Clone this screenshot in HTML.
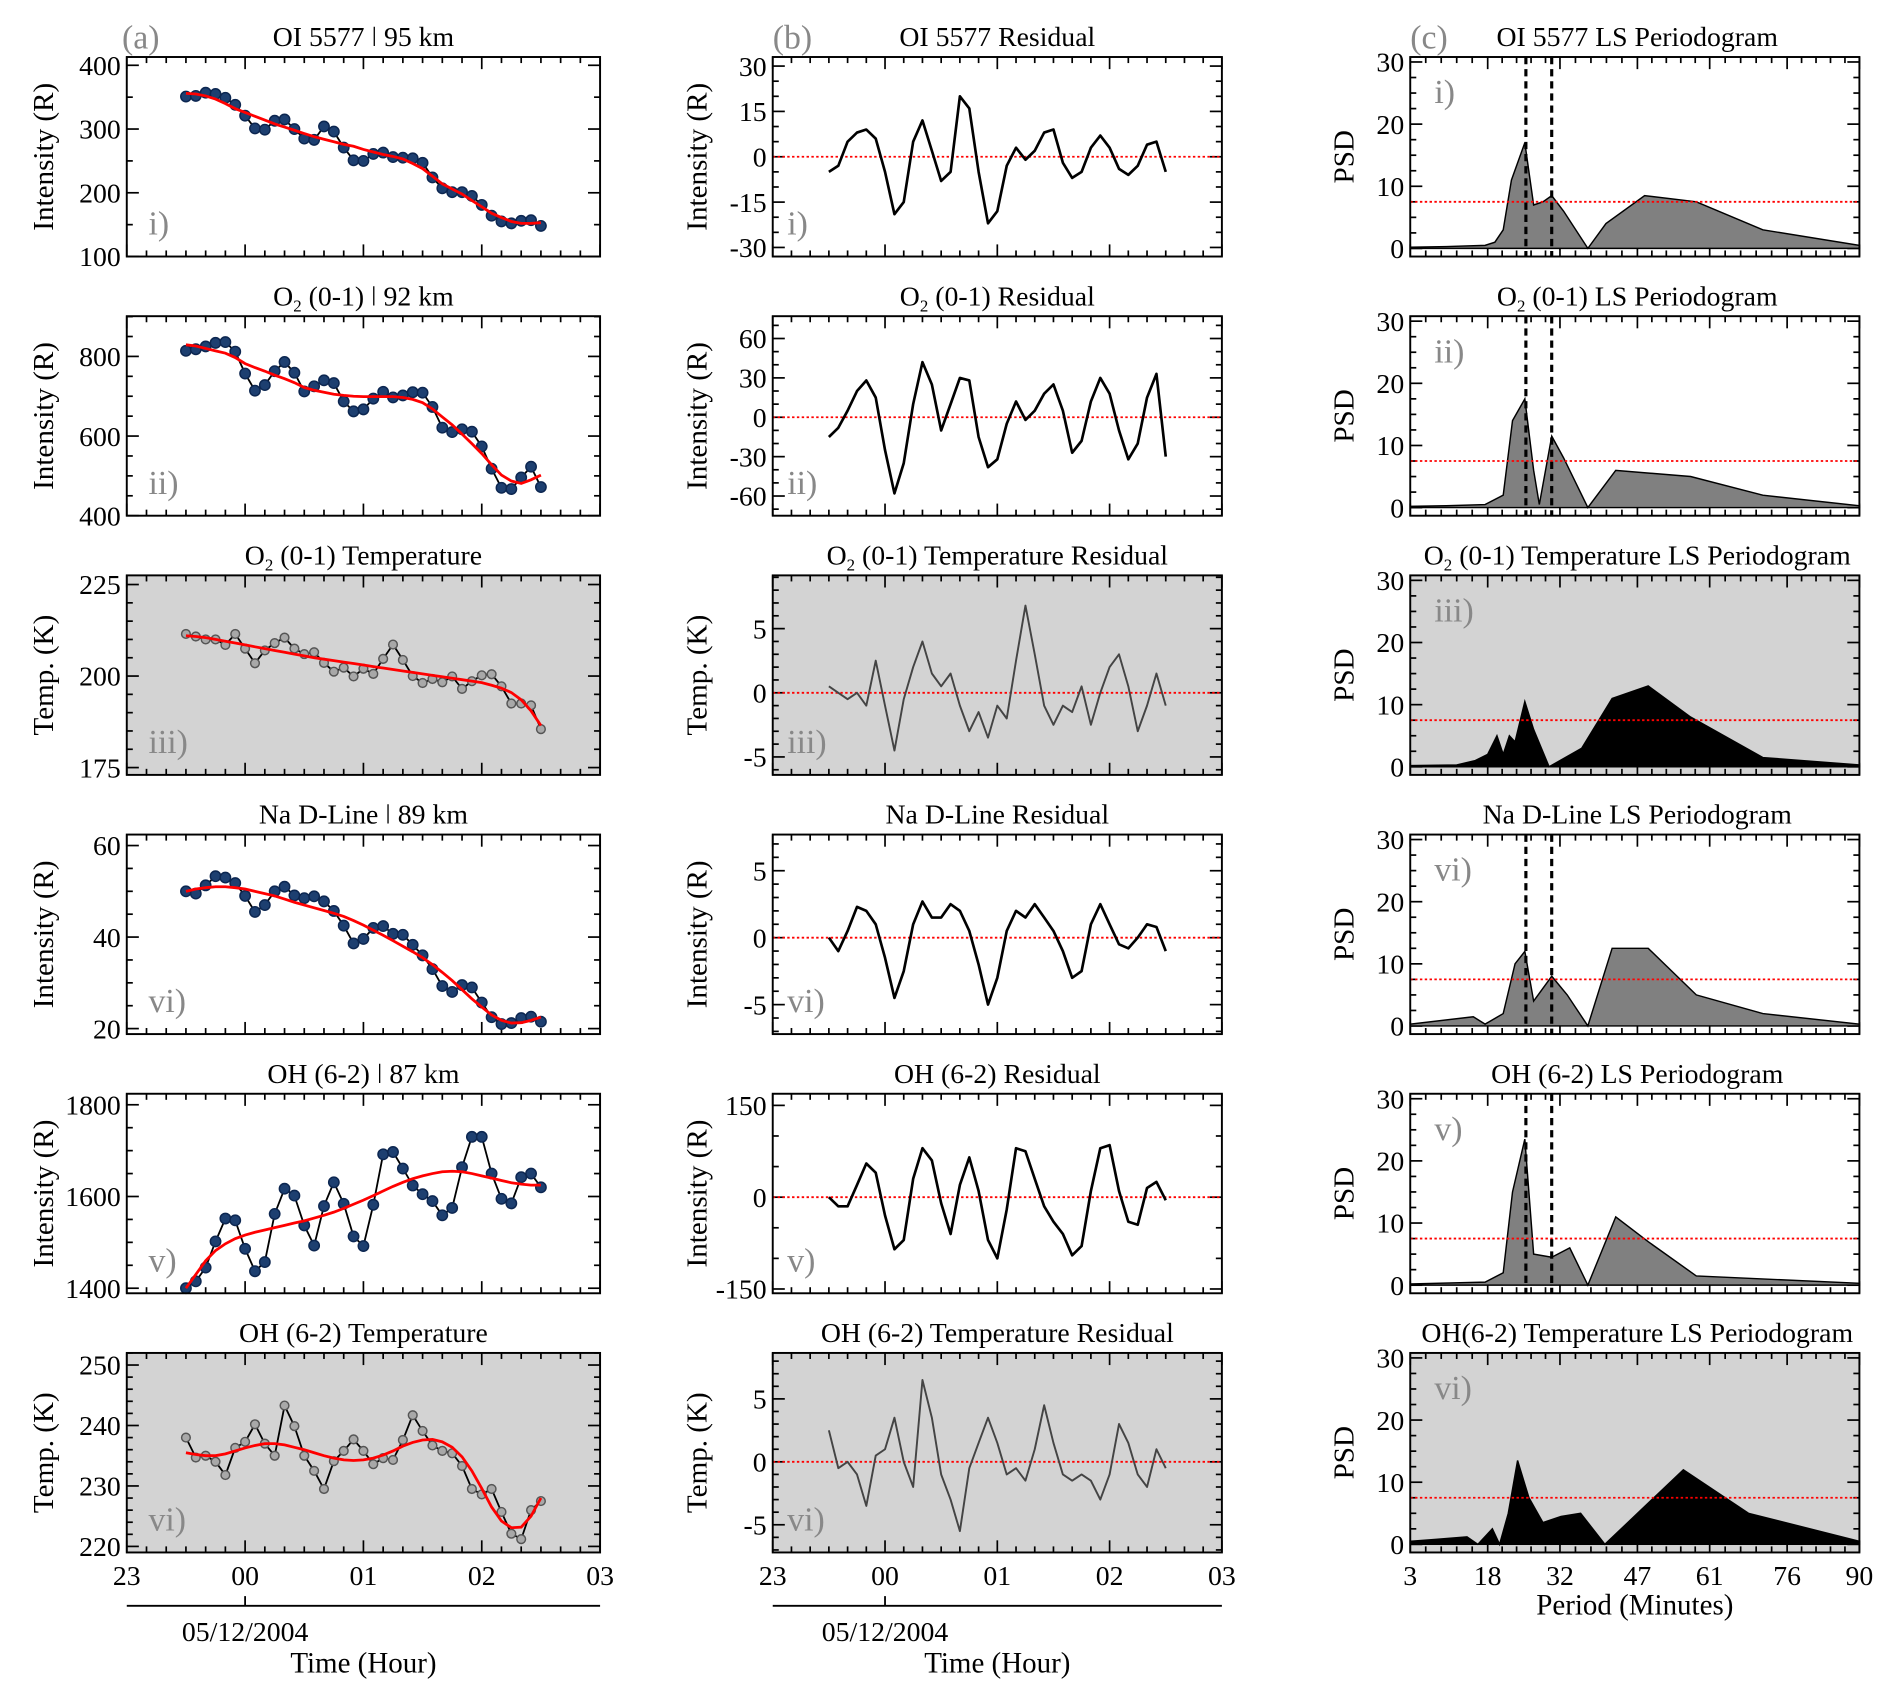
<!DOCTYPE html>
<html><head><meta charset="utf-8">
<style>
html,body{margin:0;padding:0;background:#fff;}
svg{display:block;font-family:"Liberation Serif",serif;}
</style></head>
<body>
<svg id="chart" width="1892" height="1698" viewBox="0 0 1567 1400" preserveAspectRatio="none" xmlns="http://www.w3.org/2000/svg">
<text x="101" y="40" font-size="28" fill="#888">(a)</text>
<text x="640" y="40" font-size="28" fill="#888">(b)</text>
<text x="1168" y="40" font-size="28" fill="#888">(c)</text>
<line x1="105" y1="1324" x2="497" y2="1324" stroke="#000" stroke-width="1.5"/>
<line x1="203" y1="1324" x2="203" y2="1316" stroke="#000" stroke-width="1.5"/>
<text x="203" y="1353" font-size="23" text-anchor="middle">05/12/2004</text>
<text x="301" y="1379" font-size="24" text-anchor="middle">Time (Hour)</text>
<line x1="640" y1="1324" x2="1012" y2="1324" stroke="#000" stroke-width="1.5"/>
<line x1="733" y1="1324" x2="733" y2="1316" stroke="#000" stroke-width="1.5"/>
<text x="733" y="1353" font-size="23" text-anchor="middle">05/12/2004</text>
<text x="826" y="1379" font-size="24" text-anchor="middle">Time (Hour)</text>
<text x="1354" y="1331" font-size="24" text-anchor="middle">Period (Minutes)</text>
</svg>
<script>
// ---- data: minutes after 23:30 UT ----
const times=[0,5,10,15,20,25,30,35,40,45,50,55,60,65,70,75,80,85,90,95,100,105,110,115,120,125,130,135,140,145,150,155,160,165,170,175,180];
const fitOI=[356,355,352,347,340,332,326,320,314,308,303,298,293,288,284,280,276,273,268,264,260,257,253,246,238,226,214,206,198,188,178,168,161,155,152,152,153];
const resOI=[-5,-3,5,8,9,6,-5,-19,-15,5,12,2,-8,-5,20,16,-5,-22,-18,-3,3,-1,2,8,9,-2,-7,-5,3,7,3,-4,-6,-3,4,5,-5];
const fitO2=[829,826,820,814,808,797,782,772,763,753,744,734,722,715,710,705,702,700,699,699,699,699,697,692,684,668,648,628,605,581,556,528,502,487,481,490,502];
const resO2=[-15,-8,5,20,28,15,-25,-58,-35,10,42,25,-10,10,30,28,-15,-38,-32,-5,12,-2,5,18,25,5,-27,-18,12,30,18,-10,-32,-20,15,33,-30];
const fitO2T=[211,210.8,210.5,210,209.5,209,208.5,208,207.5,207,206.5,206,205.5,205,204.6,204.2,203.8,203.4,203,202.6,202.2,201.8,201.4,201,200.6,200.2,199.8,199.4,199,198.6,198.2,197.5,196.7,195.5,193.5,190.5,186.5];
const resO2T=[0.5,0,-0.5,0,-1,2.5,-1,-4.5,-0.5,2,4,1.5,0.5,1.5,-1,-3,-1.5,-3.5,-1,-2,2.5,6.8,3,-1,-2.5,-1,-1.5,0.5,-2.5,0,2,3,0.5,-3,-1,1.5,-1];
const fitNa=[50,50.5,50.8,51,51,50.8,50.5,50,49.5,49,48.3,47.6,47,46.4,45.8,45.2,44.5,43.6,42.6,41.5,40.4,39.2,38,36.8,35.5,34,32.3,30.5,28.5,26.5,24.7,23,21.8,21.2,21.3,21.8,22.5];
const resNa=[0,-1,0.5,2.3,2,1,-1.5,-4.5,-2.5,1,2.7,1.5,1.5,2.5,2,0.5,-2,-5,-3,0.5,2,1.5,2.5,1.5,0.5,-1,-3,-2.5,1,2.5,1,-0.5,-0.8,0,1,0.8,-1];
const fitOH=[1400,1430,1460,1482,1497,1508,1516,1522,1527,1532,1537,1542,1547,1553,1559,1566,1574,1583,1592,1602,1612,1622,1631,1639,1645,1650,1654,1655,1654,1650,1645,1640,1635,1630,1627,1625,1625];
const resOH=[0,-15,-15,20,55,40,-30,-85,-70,30,80,60,-10,-60,20,65,10,-70,-100,-20,80,75,30,-15,-40,-60,-95,-80,10,80,85,10,-40,-45,15,25,-5];
const fitOHT=[235.5,235.2,235,235,235.3,235.8,236.3,236.7,237,237,236.8,236.4,236,235.5,235,234.6,234.3,234.2,234.3,234.6,235.1,235.8,236.6,237.2,237.6,237.7,237.3,236.4,234.8,232.5,229.6,226.5,224.2,223.1,223.2,225,228];
const resOHT=[2.5,-0.5,0,-1,-3.5,0.5,1,3.5,0,-2,6.5,3.5,-1,-3,-5.5,-0.5,1.5,3.5,1.5,-1,-0.5,-1.5,1,4.5,1.5,-1,-1.5,-1,-1.5,-3,-1,3,1.5,-1,-2,1,-0.5];
// periodograms
const perOI=[3,10,17.5,19.4,21,22.6,25.2,26.9,28.7,30.4,32.7,37.4,40.9,48.4,58.4,71.3,90];
const psdOI=[0.2,0.3,0.5,1,3,11,17,7,7.5,8.5,6,0,4,8.5,7.5,3,0.5];
const perO2=[3,10,17.5,21,22.8,25.2,26.9,28,30.4,32.7,37.4,42.8,57.3,71.3,90];
const psdO2=[0.2,0.3,0.5,2,14,17.5,6,0.5,11.5,8,0,6,5,2,0.3];
const perO2T=[3,12,15.6,18,19.8,21,22.2,23.3,25.2,26.9,29.9,36.2,42.1,49.1,57.3,71.3,90];
const psdO2T=[0.2,0.3,1,2,5,2,5,4,10.5,6,0,3,11,13,8,1.5,0.3];
const perNa=[3,15.2,17.5,21,23.3,25.2,26.9,30.4,33.4,37.4,42.1,49.1,58.4,71.3,90];
const psdNa=[0.3,1.5,0.3,2,10,12,4,8,5,0,12.5,12.5,5,2,0.3];
const perOH=[3,17.5,21,22.8,25.2,26.9,30.4,33.9,37.4,42.8,49.1,58.4,90];
const psdOH=[0.2,0.5,2,15,23.5,5,4.5,6,0,11,7,1.5,0.3];
const perOHT=[3,8,14,16.1,18.9,20.3,22,23.8,26,28.7,32.2,36,40.7,55.9,68.5,90];
const psdOHT=[0.5,0.8,1.2,0,2.5,0,5,13.5,7.5,3.5,4.5,5,0,12,5,0.5];
const hourLabels=['23','00','01','02','03'];
const periodTicks=[3,18,32,47,61,76,90];
const significance=7.5;
const markedPeriods=[25.4,30.4];

const NS='http://www.w3.org/2000/svg';
const svg=document.getElementById('chart');
function mk(tag,attrs,parent){const e=document.createElementNS(NS,tag);for(const k in attrs)e.setAttribute(k,attrs[k]);(parent||svg).appendChild(e);return e;}
function txt(str,attrs,parent){const e=mk('text',attrs,parent);e.textContent=str;return e;}

const rows=[
 {key:'oi5577',tA:['OI 5577 ǀ 95 km'],tB:'OI 5577 Residual',tC:'OI 5577 LS Periodogram',o2:false,fit:fitOI,res:resOI,per:perOI,psd:psdOI,temp:false,lab:'i)',
  domA:[100,413],majA:[100,200,300,400],minA:50,domB:[-33,33],majB:[-30,-15,0,15,30],minB:5,yl:'Intensity (R)',dash:true},
 {key:'o2',o2:true,tA:['(0-1) ǀ 92 km'],tB:'(0-1) Residual',tC:'(0-1) LS Periodogram',fit:fitO2,res:resO2,per:perO2,psd:psdO2,temp:false,lab:'ii)',
  domA:[400,901],majA:[400,600,800],minA:50,domB:[-75,77],majB:[-60,-30,0,30,60],minB:10,yl:'Intensity (R)',dash:true},
 {key:'o2-temp',o2:true,tA:['(0-1) Temperature'],tB:'(0-1) Temperature Residual',tC:'(0-1) Temperature LS Periodogram',fit:fitO2T,res:resO2T,per:perO2T,psd:psdO2T,temp:true,lab:'iii)',
  domA:[173,227.5],majA:[175,200,225],minA:5,domB:[-6.4,9.15],majB:[-5,0,5],minB:1,yl:'Temp. (K)',dash:false},
 {key:'na',o2:false,tA:['Na D-Line ǀ 89 km'],tB:'Na D-Line Residual',tC:'Na D-Line LS Periodogram',fit:fitNa,res:resNa,per:perNa,psd:psdNa,temp:false,lab:'vi)',
  domA:[18.8,62.4],majA:[20,40,60],minA:5,domB:[-7.2,7.7],majB:[-5,0,5],minB:1,yl:'Intensity (R)',dash:true},
 {key:'oh',o2:false,tA:['OH (6-2) ǀ 87 km'],tB:'OH (6-2) Residual',tC:'OH (6-2) LS Periodogram',fit:fitOH,res:resOH,per:perOH,psd:psdOH,temp:false,lab:'v)',
  domA:[1389,1824],majA:[1400,1600,1800],minA:50,domB:[-157,169],majB:[-150,0,150],minB:50,yl:'Intensity (R)',dash:true},
 {key:'oh-temp',o2:false,tA:['OH (6-2) Temperature'],tB:'OH (6-2) Temperature Residual',tC:'OH(6-2) Temperature LS Periodogram',fit:fitOHT,res:resOHT,per:perOHT,psd:psdOHT,temp:true,lab:'vi)',
  domA:[219,252],majA:[220,230,240,250],minA:2,domB:[-7.2,8.65],majB:[-5,0,5],minB:1,yl:'Temp. (K)',dash:false}
];
const COLS={a:[105,497],b:[640,1012],c:[1168,1540]};

function title(parent,x,y,r,text){
  const t=mk('text',{x:x,y:y,'font-size':23,'text-anchor':'middle'},parent);
  if(r.o2){const a=document.createElementNS(NS,'tspan');a.textContent='O';t.appendChild(a);
    const s=document.createElementNS(NS,'tspan');s.textContent='2';s.setAttribute('font-size','14');s.setAttribute('dy','5');t.appendChild(s);
    const b=document.createElementNS(NS,'tspan');b.textContent=' '+text;b.setAttribute('dy','-5');t.appendChild(b);}
  else t.textContent=text;
  return t;
}

function frame(g,x0,x1,top,bot,yScale,dom,maj,minStep,xMajorPos,xMinorPos,bg){
  const bgR=mk('rect',{x:x0,y:top,width:x1-x0,height:bot-top,fill:bg},g);
  
  
  const ax=mk('g',{stroke:'#000','stroke-width':1.4},g);
  
  
  const start=Math.ceil(dom[0]/minStep)*minStep;
  for(let v=start;v<=dom[1]+1e-9;v+=minStep){
    const y=yScale(v);const isMaj=maj.some(m=>Math.abs(m-v)<1e-6);const L=isMaj?10:5;
    mk('line',{x1:x0,y1:y,x2:x0+L,y2:y},ax);mk('line',{x1:x1,y1:y,x2:x1-L,y2:y},ax);
  }
  xMajorPos.forEach(x=>{mk('line',{x1:x,y1:bot,x2:x,y2:bot-10},ax);mk('line',{x1:x,y1:top,x2:x,y2:top+10},ax);});
  xMinorPos.forEach(x=>{mk('line',{x1:x,y1:bot,x2:x,y2:bot-5},ax);mk('line',{x1:x,y1:top,x2:x,y2:top+5},ax);});
  maj.forEach(v=>{const l=txt(String(v),{x:x0-5,y:yScale(v)+8,'font-size':23,'text-anchor':'end'},g);
    
    });
}
function border(g,x0,x1,top,bot){
  const b=mk('rect',{x:x0,y:top,width:x1-x0,height:bot-top,fill:'none',stroke:'#000','stroke-width':1.6},g);
  
  
}

rows.forEach((r,i)=>{
  const top=47+213.7*i, bot=top+164.5;
  const last=(i===rows.length-1);
  const bg=r.temp?'#d3d3d3':'#fff';
  // ---------- column a ----------
  {
    const [x0,x1]=COLS.a;
    const g=mk('g',{});
    
    
    const X=t=>x0+(t+30)/240*(x1-x0);
    const Y=v=>bot-(v-r.domA[0])/(r.domA[1]-r.domA[0])*(bot-top);
    const majX=[],minX=[];for(let m=-30;m<=210;m+=10){(m+30)%60===0?majX.push(X(m)):minX.push(X(m));}
    frame(g,x0,x1,top,bot,Y,r.domA,r.majA,r.minA,majX,minX,bg);
    const data=r.fit.map((f,k)=>f+r.res[k]);
    const pts=times.map((t,k)=>X(t).toFixed(1)+','+Y(data[k]).toFixed(1)).join(' ');
    const ln=mk('polyline',{points:pts,fill:'none',stroke:'#000','stroke-width':1.5},g);
    
    
    times.forEach((t,k)=>{const c=mk('circle',{cx:X(t),cy:Y(data[k]),r:r.temp?3.6:4.3,fill:r.temp?'#a8a8a8':'#1d3f70',stroke:r.temp?'#555':'#0c2650','stroke-width':1.2},g);
      
      });
    const fp=times.map((t,k)=>X(t).toFixed(1)+','+Y(r.fit[k]).toFixed(1)).join(' ');
    const fl=mk('polyline',{points:fp,fill:'none',stroke:'#ff0000','stroke-width':2.3},g);
    
    
    border(g,x0,x1,top,bot);
    const tt=title(g,(x0+x1)/2,top-9,r,r.tA[0]);
    
    
    const rl=txt(r.lab,{x:x0+18,y:bot-18,'font-size':28,fill:'#888'},g);
    
    
    const yl=txt(r.yl,{x:0,y:0,'font-size':24,'text-anchor':'middle',transform:'translate(44,'+((top+bot)/2)+') rotate(-90)'},g);
    
    
    if(last){hourLabels.forEach((h,k)=>{const l=txt(h,{x:X(-30+60*k),y:bot+27,'font-size':23,'text-anchor':'middle'},g);
      
      });}
  }
  // ---------- column b ----------
  {
    const [x0,x1]=COLS.b;
    const g=mk('g',{});
    
    
    const X=t=>x0+(t+30)/240*(x1-x0);
    const Y=v=>bot-(v-r.domB[0])/(r.domB[1]-r.domB[0])*(bot-top);
    const majX=[],minX=[];for(let m=-30;m<=210;m+=10){(m+30)%60===0?majX.push(X(m)):minX.push(X(m));}
    frame(g,x0,x1,top,bot,Y,r.domB,r.majB,r.minB,majX,minX,bg);
    const z=mk('line',{x1:x0,y1:Y(0),x2:x1,y2:Y(0),stroke:'#ff0000','stroke-width':1.5,'stroke-dasharray':'2 2'},g);
    
    
    const pts=times.map((t,k)=>X(t).toFixed(1)+','+Y(r.res[k]).toFixed(1)).join(' ');
    const ln=mk('polyline',{points:pts,fill:'none',stroke:r.temp?'#444':'#000','stroke-width':r.temp?1.6:2.2,'stroke-linejoin':'round'},g);
    
    
    border(g,x0,x1,top,bot);
    const tt=title(g,(x0+x1)/2,top-9,r,r.tB);
    
    
    const rl=txt(r.lab,{x:x0+12,y:bot-18,'font-size':28,fill:'#888'},g);
    
    
    const yl=txt(r.yl,{x:0,y:0,'font-size':24,'text-anchor':'middle',transform:'translate(585,'+((top+bot)/2)+') rotate(-90)'},g);
    
    
    if(last){hourLabels.forEach((h,k)=>{const l=txt(h,{x:X(-30+60*k),y:bot+27,'font-size':23,'text-anchor':'middle'},g);
      
      });}
  }
  // ---------- column c ----------
  {
    const [x0,x1]=COLS.c;
    const g=mk('g',{});
    
    
    const dom=[-1.3,30.8];
    const X=p=>x0+(p-3)/87*(x1-x0);
    const Y=v=>bot-(v-dom[0])/(dom[1]-dom[0])*(bot-top);
    const majX=periodTicks.map(X),minX=[];
    for(let k=0;k<periodTicks.length-1;k++){const a=X(periodTicks[k]),b=X(periodTicks[k+1]);for(let j=1;j<5;j++)minX.push(a+(b-a)*j/5);}
    frame(g,x0,x1,top,bot,Y,dom,[0,10,20,30],2.5,majX,minX,bg);
    let pts=X(r.per[0]).toFixed(1)+','+Y(0).toFixed(1)+' ';
    pts+=r.per.map((p,k)=>X(p).toFixed(1)+','+Y(r.psd[k]).toFixed(1)).join(' ');
    pts+=' '+X(r.per[r.per.length-1]).toFixed(1)+','+Y(0).toFixed(1);
    const area=mk('polygon',{points:pts,fill:r.temp?'#000':'#808080',stroke:'#000','stroke-width':1.2},g);
    
    
    const sl=mk('line',{x1:x0,y1:Y(significance),x2:x1,y2:Y(significance),stroke:'#ff0000','stroke-width':1.5,'stroke-dasharray':'2 2'},g);
    
    
    if(r.dash){markedPeriods.forEach(p=>{const d=mk('line',{x1:X(p),y1:top,x2:X(p),y2:bot,stroke:'#000','stroke-width':2.6,'stroke-dasharray':'6 4'},g);
      
      });}
    border(g,x0,x1,top,bot);
    const tt=title(g,(x0+x1)/2+2,top-9,r,r.tC);
    
    
    const rl=txt(r.lab,{x:x0+20,y:top+38,'font-size':28,fill:'#888'},g);
    
    
    const yl=txt('PSD',{x:0,y:0,'font-size':24,'text-anchor':'middle',transform:'translate(1121,'+((top+bot)/2)+') rotate(-90)'},g);
    
    
    if(last){periodTicks.forEach(p=>{const l=txt(String(p),{x:X(p),y:bot+27,'font-size':23,'text-anchor':'middle'},g);
      
      });}
  }
});
</script>
</body></html>
